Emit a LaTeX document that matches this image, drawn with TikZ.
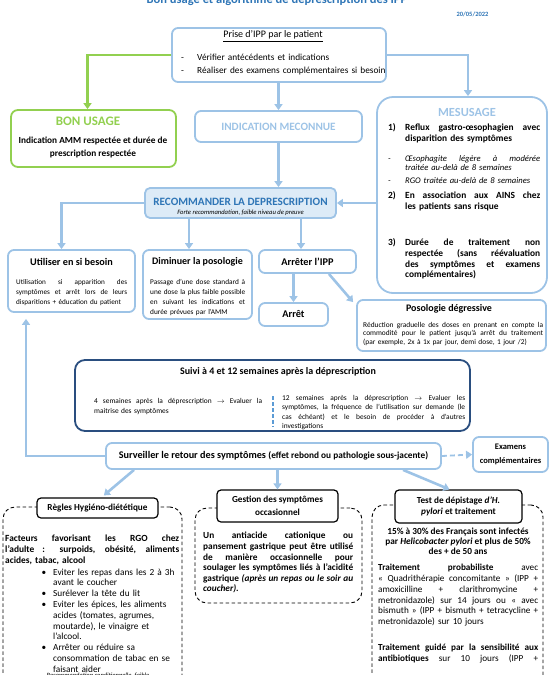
\documentclass[tikz,border=0pt]{standalone}
\usepackage{fontspec}
\setmainfont{Carlito}
\usetikzlibrary{arrows.meta}

\definecolor{lblue}{HTML}{9DC3E6}
\definecolor{tblue}{HTML}{2E75B6}
\definecolor{dblue}{HTML}{2A4E7F}
\definecolor{mblue}{HTML}{5B9BD5}
\definecolor{bgreen}{HTML}{92D050}
\definecolor{rfill}{HTML}{DDEBF7}

\newcommand{\setfs}[2]{\fontsize{#1}{#2}\selectfont}
\newcommand{\jl}[1]{\leavevmode\hbox to \hsize{\spaceskip=0pt \xspaceskip=0pt #1}}
\newcommand{\bul}{\leavevmode\llap{\textbullet\hspace{7pt}}}

\tikzset{
  box/.style={draw=lblue, line width=1.8pt, rounded corners=6pt, inner sep=0pt},
  sz/.style 2 args={minimum width=#1pt, minimum height=#2pt},
  titlebox/.style={draw=black, line width=1.2pt, rounded corners=4pt, fill=white,
    inner sep=0pt, align=flush center, font=\setfs{9.2}{12}\bfseries},
  dashbox/.style={draw=black, line width=0.9pt, dash pattern=on 3.5pt off 2.5pt,
    rounded corners=12pt, inner sep=0pt},
  arr/.style={draw=lblue, line width=2.6pt, -{Triangle[length=6pt,width=8pt]}},
  garr/.style={arr, draw=bgreen},
  txt/.style={inner sep=0pt, anchor=base west},
}

\begin{document}
\begin{tikzpicture}[x=1pt, y=-1pt]
    \useasboundingbox (0,0) rectangle (553,675);

    % title and date
    \node[anchor=base, text=tblue, font=\setfs{12.5}{14}\bfseries] (title) at (277,3)
        {Bon usage et algorithme de déprescription des IPP};
    \node[anchor=base east, text=tblue, font=\setfs{6.5}{8}\bfseries] (date) at (492,16)
        {20/05/2022};

    % top box
    \node[box, sz={214}{54}] (prise) at (279,55) {};
    \node[font=\setfs{10}{12}] (prisetitle) at (273,36) {\underline{Prise d’IPP par le patient}};
    \node[txt, text width=215pt, font=\setfs{9.3}{13}] (priselist) at (181,60)
        {\makebox[16pt][l]{-}Vérifier antécédents et indications\\
         \makebox[16pt][l]{-}Réaliser des examens complémentaires si besoin};

    % three situations
    \node[box, draw=bgreen, rounded corners=7pt, sz={165}{57}] (bon) at (93.5,138.5) {};
    \node[text=bgreen, font=\setfs{13}{15}\bfseries] (bontitle) at (88,121) {BON USAGE};
    \node[align=flush center, font=\setfs{9.3}{13}\bfseries] (bontext) at (93,147.5)
        {Indication AMM respectée et durée de\\prescription respectée};

    \node[box, sz={167}{31}, text=lblue, font=\setfs{11.2}{13}\bfseries] (indic) at (278.5,126.5)
        {INDICATION MECONNUE};

    \node[box, rounded corners=16pt, sz={170}{196}] (mes) at (462,195) {};
    \node[text=lblue, font=\setfs{12.4}{14}\bfseries] (mestitle) at (467,112) {MESUSAGE};
    \node[txt, font=\setfs{9.4}{11}\bfseries] (mesn1) at (388,130.8) {1)};
    \node[txt, text width=135pt, font=\setfs{9.4}{11}\bfseries] (mes1) at (405,130.8)
        {\jl{Reflux gastro-œsophagien avec}\\ disparition des symptômes};
    \node[txt, font=\setfs{8.6}{9.3}\itshape] (mesda) at (388,161.4) {-};
    \node[txt, text width=135pt, font=\setfs{8.6}{9.3}\itshape] (mesa) at (405,161.4)
        {\jl{Œsophagite légère à modérée}\\ traitée au-delà de 8 semaines};
    \node[txt, font=\setfs{8.6}{9.3}\itshape] (mesdb) at (388,183.4) {-};
    \node[txt, text width=135pt, font=\setfs{8.6}{9.3}\itshape] (mesb) at (405,183.4)
        {RGO traitée au-delà de 8 semaines};
    \node[txt, font=\setfs{9.4}{11}\bfseries] (mesn2) at (388,198.8) {2)};
    \node[txt, text width=135pt, font=\setfs{9.4}{10.5}\bfseries] (mes2) at (405,198.8)
        {\jl{En association aux AINS chez}\\ les patients sans risque};
    \node[txt, font=\setfs{9.4}{11}\bfseries] (mesn3) at (388,245.8) {3)};
    \node[txt, text width=135pt, font=\setfs{9.4}{10.7}\bfseries] (mes3) at (405,245.8)
        {\jl{Durée de traitement non}\\ \jl{respectée (sans réévaluation}\\
         \jl{des symptômes et examens}\\ complémentaires)};

    % deprescription
    \node[box, fill=rfill, rounded corners=5pt, sz={191}{30}] (recom) at (240.5,203) {};
    \node[text=tblue, font=\setfs{11.2}{13}\bfseries] (recomtitle) at (240.5,201.5)
        {RECOMMANDER LA DEPRESCRIPTION};
    \node[font=\setfs{6.6}{7}\itshape] (recomsub) at (240.5,212.8)
        {Forte recommandation, faible niveau de preuve};

    \node[box, sz={127}{62}] (util) at (71.5,281) {};
    \node[font=\setfs{10.2}{12}\bfseries] (utiltitle) at (71.5,262) {Utiliser en si besoin};
    \node[txt, text width=111pt, font=\setfs{7.2}{10}] (utiltext) at (16,284.2)
        {\jl{Utilisation si apparition des}\\ \jl{symptômes et arrêt lors de leurs}\\
         disparitions + éducation du patient};

    \node[box, sz={109}{69}] (dimin) at (197.5,284.5) {};
    \node[font=\setfs{10}{12}\bfseries] (dimintitle) at (197.5,262) {Diminuer la posologie};
    \node[txt, text width=95pt, font=\setfs{7.3}{10.2}] (dimintext) at (150,284.2)
        {\jl{Passage d’une dose standard à}\\ \jl{une dose la plus faible possible}\\
         \jl{en suivant les indications et}\\ durée prévues par l’AMM};

    \node[box, sz={97}{23}, font=\setfs{10.3}{12}\bfseries] (arreter) at (307.5,261.5) {Arrêter l’IPP};
    \node[box, sz={69}{23}, font=\setfs{10.3}{12}\bfseries] (arret) at (293.5,314.5) {Arrêt};

    \node[box, sz={189}{51}] (poso) at (451.5,325.5) {};
    \node[font=\setfs{10}{12}\bfseries] (posotitle) at (449,308.5) {Posologie dégressive};
    \node[txt, text width=180pt, font=\setfs{7.4}{8.7}] (posotext) at (363,327.1)
        {\jl{Réduction graduelle des doses en prenant en compte la}\\
         \jl{commodité pour le patient jusqu’à arrêt du traitement}\\
         (par exemple, 2x à 1x par jour, demi dose, 1 jour /2)};

    % follow-up
    \node[draw=dblue, line width=1.8pt, rounded corners=10pt, sz={395}{71}] (suivi) at (272.5,395.5) {};
    \node[font=\setfs{10}{11}\bfseries] (suivititle) at (278,372)
        {Suivi à 4 et 12 semaines après la déprescription};
    \node[txt, text width=168pt, font=\setfs{7.4}{10}] (suivileft) at (94,403.2)
        {\jl{4 semaines après la déprescription $\rightarrow$ Evaluer la}\\ maitrise des symptômes};
    \node[txt, text width=183pt, font=\setfs{7.4}{9.4}] (suiviright) at (282,400.2)
        {\jl{12 semaines après la déprescription $\rightarrow$ Evaluer les}\\
         \jl{symptômes, la fréquence de l’utilisation sur demande (le}\\
         \jl{cas échéant) et le besoin de procéder à d’autres}\\ investigations};
    \draw[mblue, line width=1.5pt, dash pattern=on 4pt off 2pt] (273,396) -- (273,427);

    \node[box, sz={335}{26}, font=\setfs{10.2}{12}\bfseries] (surv) at (273.5,456)
        {Surveiller le retour des symptômes {\setfs{9.3}{11}(effet rebond ou pathologie sous-jacente)}};
    \node[box, sz={75}{35}, align=flush center, font=\setfs{8.5}{14}\bfseries] (exam) at (510.5,454.5)
        {Examens\\complémentaires};

    % bottom columns
    \node[dashbox, sz={179}{193}] (reglesbox) at (92.5,603.5) {};
    \node[dashbox, sz={167}{95}] (gestionbox) at (278.5,555.5) {};
    \node[dashbox, sz={171}{195}] (testbox) at (457.5,602.5) {};

    \node[titlebox, sz={121}{20}] (regles) at (97.5,508) {Règles Hygiéno-diététique};
    \node[titlebox, sz={121}{32}, font=\setfs{9.2}{13}\bfseries] (gestion) at (277.5,506)
        {Gestion des symptômes\\occasionnel};
    \node[titlebox, sz={127}{33}, font=\setfs{9.2}{11}\bfseries] (test) at (458.5,506.5)
        {Test de dépistage \textit{d’H.}\\\textit{pylori} et traitement};

    \node[txt, text width=174pt, font=\setfs{9.4}{11}\bfseries] (reglestext) at (5,541.9)
        {\jl{Facteurs favorisant les RGO chez}\\ \jl{l’adulte : surpoids, obésité, aliments}\\
         acides, tabac, alcool};
    \node[txt, text width=128pt, font=\setfs{9.3}{10.8}] (reglesliste) at (53,575)
        {\bul Eviter les repas dans les 2 à 3h\\ avant le coucher\\
         \bul Surélever la tête du lit\\ \bul Eviter les épices, les aliments\\
         acides (tomates, agrumes,\\ moutarde), le vinaigre et\\ l’alcool.\\
         \bul Arrêter ou réduire sa\\ consommation de tabac en se\\ faisant aider};
    \node[font=\setfs{6.5}{8}\itshape] (reglesrec) at (98,675.5) {Recommandation conditionnelle, faible};

    \node[txt, text width=150pt, font=\setfs{9.3}{10.6}\bfseries] (gestiontext) at (203,538.9)
        {\jl{Un antiacide cationique ou}\\ \jl{pansement gastrique peut être utilisé}\\
         \jl{de manière occasionnelle pour}\\ \jl{soulager les symptômes liés à l’acidité}\\
         \jl{gastrique \textit{(après un repas ou le soir au}}\\ \textit{coucher)}.};

    \node[inner sep=0pt, anchor=base, text width=160pt, align=flush center, font=\setfs{9.3}{10}\bfseries]
        (testinfo) at (458,534.7)
        {15\% à 30\% des Français sont infectés\\ par \textit{Helicobacter pylori} et plus de 50\%\\
         des + de 50 ans};
    \node[txt, text width=160pt, font=\setfs{9.2}{10.8}] (testprob) at (378,570.7)
        {\jl{\textbf{Traitement probabiliste} avec}\\ \jl{« Quadrithérapie concomitante » (IPP +}\\
         \jl{amoxicilline + clarithromycine +}\\ \jl{metronidazole) sur 14 jours ou « avec}\\
         \jl{bismuth » (IPP + bismuth + tetracycline +}\\ metronidazole) sur 10 jours};
    \node[txt, text width=160pt, font=\setfs{9.2}{10.8}] (testguide) at (378,650.7)
        {\jl{\textbf{Traitement guidé par la sensibilité aux}}\\
         \jl{\textbf{antibiotiques} sur 10 jours (IPP +}};

    % connectors
    \draw[garr] (prise.west) -| ([xshift=-6pt]bon.north);
    \draw[arr] (indic.north |- prise.south) -- (indic.north);
    \draw[arr] (prise.east) -| ([xshift=6pt]mes.north);
    \draw[arr] (indic.south) -- (indic.south |- recom.north);
    \draw[arr] (mes.west |- recom.east) -- (recom.east);
    \draw[arr] (recom.west) -| ([xshift=-10pt]util.north);
    \draw[arr] (recom.south -| 189,0) -- (dimin.north -| 189,0);
    \draw[arr] (recom.south -| 301,0) -- (arreter.north -| 301,0);
    \draw[arr] (arret.north |- arreter.south) -- (arret.north);
    \draw[arr] (arreter.south -| arret.east) -- ([xshift=-3pt,yshift=-3pt]poso.north west);
    \draw[arr, shorten >=6pt] (surv.west) -| ([xshift=-45.5pt]util.south);
    \draw[arr, line width=1.8pt, dash pattern=on 5pt off 3pt] (surv.east) -- (exam.west);
    \draw[arr, shorten >=3pt] (surv.south -| 134,0) -- ([xshift=4pt]regles.north);
    \draw[arr] (surv.south -| gestion.north) -- (gestion.north);
    \draw[arr] (surv.south -| 403,0) -- ([xshift=-9pt]test.north);

\end{tikzpicture}
\end{document}
